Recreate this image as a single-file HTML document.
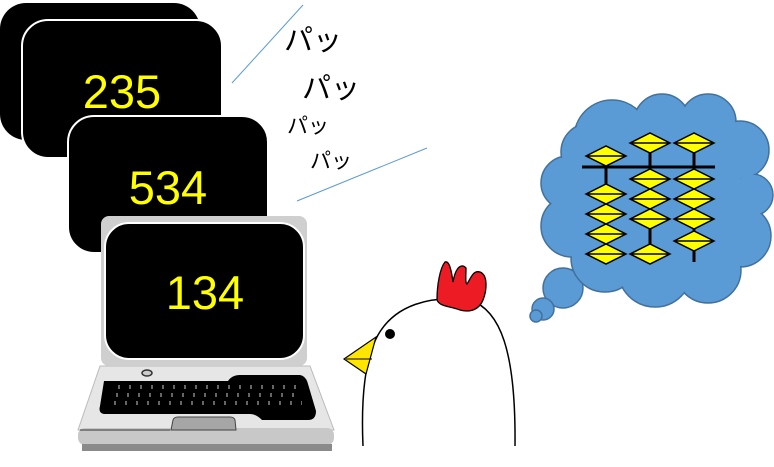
<!DOCTYPE html>
<html><head><meta charset="utf-8"><style>
html,body{margin:0;padding:0;background:#fff;}
svg{display:block;}
</style></head><body>
<svg width="774" height="467" viewBox="0 0 774 467" xmlns="http://www.w3.org/2000/svg" font-family="Liberation Sans, Noto Sans CJK JP, sans-serif">
<!-- screens -->
<rect x="0" y="3" width="200" height="137" rx="26" fill="#000"/>
<rect x="22" y="20" width="200" height="138" rx="26" fill="#000" stroke="#fff" stroke-width="2"/>
<text x="122" y="108" font-size="47" fill="#ffff00" text-anchor="middle">235</text>
<rect x="68" y="116" width="200" height="137" rx="26" fill="#000" stroke="#fff" stroke-width="2"/>
<text x="168" y="204" font-size="47" fill="#ffff00" text-anchor="middle">534</text>
<!-- laptop -->
<path d="M100 366 L310 366 L334 430 L78 430 Z" fill="#e6e6e6" stroke="#bbb"/>
<rect x="78" y="428" width="256" height="17" rx="7" fill="#c8c8c8"/>
<rect x="82" y="444" width="250" height="7" fill="#8a8a8a"/>
<line x1="80" y1="430" x2="170" y2="430" stroke="#333"/>
<path d="M104 381 L228 381 Q232 375 240 375 L300 375 Q306 376 308 384 L316 411 Q316 420 308 420 L262 420 Q256 414 250 414 L104 414 Q98 413 100 406 Z" fill="#000"/>
<g stroke="#666" stroke-width="4">
<path d="M118 387 h180 M116 395 h184 M114 403 h188" stroke-dasharray="2 9"/>
</g>
<path d="M171 430 L173 420 Q174 417 178 417 L230 417 Q234 417 235 420 L236 430 Z" fill="#a6a6a6" stroke="#444"/>
<ellipse cx="147" cy="373" rx="5" ry="3" fill="#ccc" stroke="#333" stroke-width="1.5"/>
<rect x="101" y="216" width="206" height="150" rx="8" fill="#cfcfcf"/>
<rect x="105" y="223" width="199" height="136" rx="24" fill="#000" stroke="#fff" stroke-width="2"/>
<text x="205" y="309" font-size="47" fill="#ffff00" text-anchor="middle">134</text>
<!-- lines and text -->
<line x1="232" y1="83" x2="303" y2="5" stroke="#5b9bd5" stroke-width="1"/>
<line x1="297" y1="201" x2="427" y2="148" stroke="#5b9bd5" stroke-width="1"/>
<text x="284" y="50" font-size="29" fill="#000">パッ</text>
<text x="302" y="98" font-size="29" fill="#000">パッ</text>
<text x="287" y="133" font-size="21" fill="#000">パッ</text>
<text x="310" y="168" font-size="21" fill="#000">パッ</text>
<!-- chicken -->
<path d="M363 446 C361 400 364 360 378 335 C395 305 430 295 470 300 C500 310 516 350 515 446" fill="#fff" stroke="#000" stroke-width="1.5"/>
<path d="M344 359 L376 337 L366 374 Z" fill="#ffe600" stroke="#000" stroke-width="1.2"/>
<line x1="346" y1="359" x2="372" y2="359" stroke="#000" stroke-width="1"/>
<circle cx="390" cy="334" r="5" fill="#000"/>
<path d="M437 300 C437 285 440 268 445 262 C450 260 452 275 453 282 C455 270 460 262 466 268 C466 276 465 283 467 284 C471 278 473 270 480 272 C488 275 487 290 483 300 C478 312 467 312 460 310 C450 306 440 307 437 300 Z" fill="#ed1c24" stroke="#000" stroke-width="1.3"/>
<!-- cloud -->
<g fill="#5b9bd5" stroke="#41719c" stroke-width="1.5">
<circle cx="563" cy="288" r="20"/>
<circle cx="543" cy="309" r="11"/>
<circle cx="536" cy="316" r="6"/>
</g>
<g fill="#5b9bd5" stroke="#41719c" stroke-width="1.5">
<circle cx="612" cy="138" r="38"/><circle cx="662" cy="122" r="28"/><circle cx="708" cy="122" r="28"/><circle cx="740" cy="150" r="29"/><circle cx="752" cy="195" r="21"/><circle cx="740" cy="236" r="31"/><circle cx="708" cy="270" r="33"/><circle cx="655" cy="270" r="37"/><circle cx="605" cy="258" r="34"/><circle cx="572" cy="226" r="31"/><circle cx="568" cy="183" r="27"/><circle cx="590" cy="152" r="29"/>
</g>
<g fill="#5b9bd5">
<circle cx="612" cy="138" r="37"/><circle cx="662" cy="122" r="27"/><circle cx="708" cy="122" r="27"/><circle cx="740" cy="150" r="28"/><circle cx="752" cy="195" r="20"/><circle cx="740" cy="236" r="30"/><circle cx="708" cy="270" r="32"/><circle cx="655" cy="270" r="36"/><circle cx="605" cy="258" r="33"/><circle cx="572" cy="226" r="30"/><circle cx="568" cy="183" r="26"/><circle cx="590" cy="152" r="28"/>
<rect x="580" y="135" width="160" height="130"/>
</g>
<!-- abacus -->
<g stroke="#000" stroke-width="3">
<line x1="582" y1="167" x2="715" y2="167"/>
<line x1="606" y1="156" x2="606" y2="254"/>
<line x1="650" y1="143" x2="650" y2="254"/>
<line x1="694" y1="143" x2="694" y2="262"/>
</g>
<g fill="#ffff00" stroke="#000" stroke-width="1.5">
<path d="M-20 0 L0 -10 L20 0 L0 10 Z M-20 0 L20 0" transform="translate(606,156)"/>
<path d="M-20 0 L0 -10 L20 0 L0 10 Z M-20 0 L20 0" transform="translate(606,194)"/>
<path d="M-20 0 L0 -10 L20 0 L0 10 Z M-20 0 L20 0" transform="translate(606,214)"/>
<path d="M-20 0 L0 -10 L20 0 L0 10 Z M-20 0 L20 0" transform="translate(606,234)"/>
<path d="M-20 0 L0 -10 L20 0 L0 10 Z M-20 0 L20 0" transform="translate(606,254)"/>
<path d="M-20 0 L0 -10 L20 0 L0 10 Z M-20 0 L20 0" transform="translate(650,143)"/>
<path d="M-20 0 L0 -10 L20 0 L0 10 Z M-20 0 L20 0" transform="translate(650,179)"/>
<path d="M-20 0 L0 -10 L20 0 L0 10 Z M-20 0 L20 0" transform="translate(650,199)"/>
<path d="M-20 0 L0 -10 L20 0 L0 10 Z M-20 0 L20 0" transform="translate(650,219)"/>
<path d="M-20 0 L0 -10 L20 0 L0 10 Z M-20 0 L20 0" transform="translate(650,254)"/>
<path d="M-20 0 L0 -10 L20 0 L0 10 Z M-20 0 L20 0" transform="translate(694,143)"/>
<path d="M-20 0 L0 -10 L20 0 L0 10 Z M-20 0 L20 0" transform="translate(694,179)"/>
<path d="M-20 0 L0 -10 L20 0 L0 10 Z M-20 0 L20 0" transform="translate(694,199)"/>
<path d="M-20 0 L0 -10 L20 0 L0 10 Z M-20 0 L20 0" transform="translate(694,219)"/>
<path d="M-20 0 L0 -10 L20 0 L0 10 Z M-20 0 L20 0" transform="translate(694,241)"/>
</g>
</svg>
</body></html>
